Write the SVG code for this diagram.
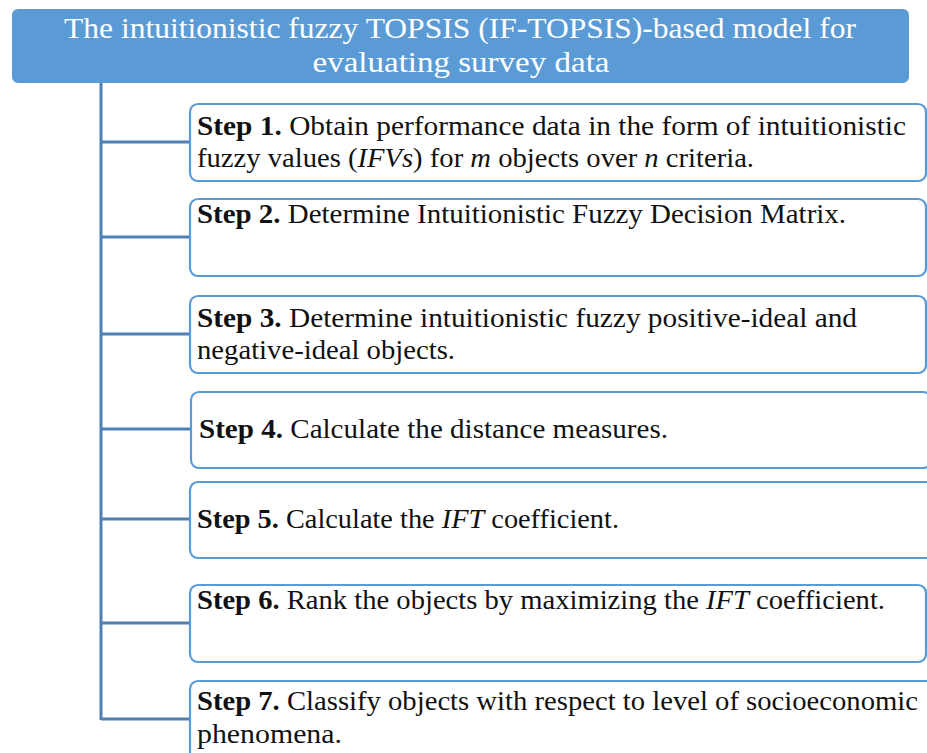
<svg xmlns="http://www.w3.org/2000/svg" width="927" height="753" viewBox="0 0 927 753">
  <style>
    .head { fill: #5b9bd5; stroke: #5b9bd5; stroke-width: 2; }
    .box { fill: #ffffff; stroke: #5b9bd5; stroke-width: 2.2; }
    .title { font-family: "Liberation Serif", "DejaVu Serif", serif; font-size: 29px; fill: #ffffff; text-anchor: middle; }
    .txt { font-family: "Liberation Serif", "DejaVu Serif", serif; font-size: 26.5px; fill: #111111; }
    .b { font-weight: bold; }
    .i { font-style: italic; }
    .link { stroke: #4f7fb5; stroke-width: 3; fill: none; }
  </style>

  <rect width="927" height="753" fill="#ffffff"/>

  <!-- connectors: trunk plus one branch per step -->
  <g id="connectors">
    <path class="link" d="M101 82 V720"/>
    <path class="link" d="M101 142 H190"/>
    <path class="link" d="M101 237 H190"/>
    <path class="link" d="M101 334 H190"/>
    <path class="link" d="M101 429 H191"/>
    <path class="link" d="M101 519 H190"/>
    <path class="link" d="M101 623 H190"/>
    <path class="link" d="M101 719 H190"/>
  </g>

  <g id="header">
    <rect class="head" x="13" y="10" width="895" height="72" rx="5"/>
    <text class="title" x="460" y="38" textLength="792" lengthAdjust="spacingAndGlyphs">The intuitionistic fuzzy TOPSIS (IF-TOPSIS)-based model for</text>
    <text class="title" x="461" y="72" textLength="297" lengthAdjust="spacingAndGlyphs">evaluating survey data</text>
  </g>

  <g id="step1">
    <rect class="box" x="190" y="104" width="736" height="77" rx="8"/>
    <text class="txt" x="197" y="135" textLength="709" lengthAdjust="spacingAndGlyphs"><tspan class="b">Step 1.</tspan> Obtain performance data in the form of intuitionistic</text>
    <text class="txt" x="197" y="167" textLength="557" lengthAdjust="spacingAndGlyphs">fuzzy values (<tspan class="i">IFVs</tspan>) for <tspan class="i">m</tspan> objects over <tspan class="i">n</tspan> criteria.</text>
  </g>

  <g id="step2">
    <rect class="box" x="190" y="199" width="736" height="77" rx="8"/>
    <text class="txt" x="197" y="223" textLength="649" lengthAdjust="spacingAndGlyphs"><tspan class="b">Step 2.</tspan> Determine Intuitionistic Fuzzy Decision Matrix.</text>
  </g>

  <g id="step3">
    <rect class="box" x="190" y="296" width="736" height="77" rx="8"/>
    <text class="txt" x="197" y="327" textLength="660" lengthAdjust="spacingAndGlyphs"><tspan class="b">Step 3.</tspan> Determine intuitionistic fuzzy positive-ideal and</text>
    <text class="txt" x="197" y="359" textLength="258" lengthAdjust="spacingAndGlyphs">negative-ideal objects.</text>
  </g>

  <g id="step4">
    <rect class="box" x="191" y="392" width="740" height="76" rx="8"/>
    <text class="txt" x="199" y="438" textLength="469" lengthAdjust="spacingAndGlyphs"><tspan class="b">Step 4.</tspan> Calculate the distance measures.</text>
  </g>

  <g id="step5">
    <rect class="box" x="190" y="482" width="745" height="76" rx="8"/>
    <text class="txt" x="197" y="528" textLength="422" lengthAdjust="spacingAndGlyphs"><tspan class="b">Step 5.</tspan> Calculate the <tspan class="i">IFT</tspan> coefficient.</text>
  </g>

  <g id="step6">
    <rect class="box" x="190" y="585" width="736" height="77" rx="8"/>
    <text class="txt" x="197" y="609" textLength="688" lengthAdjust="spacingAndGlyphs"><tspan class="b">Step 6.</tspan> Rank the objects by maximizing the <tspan class="i">IFT</tspan> coefficient.</text>
  </g>

  <g id="step7">
    <rect class="box" x="190" y="681" width="745" height="82" rx="8"/>
    <text class="txt" x="197" y="710" textLength="721" lengthAdjust="spacingAndGlyphs"><tspan class="b">Step 7.</tspan> Classify objects with respect to level of socioeconomic</text>
    <text class="txt" x="197" y="743" textLength="145" lengthAdjust="spacingAndGlyphs">phenomena.</text>
  </g>
</svg>
